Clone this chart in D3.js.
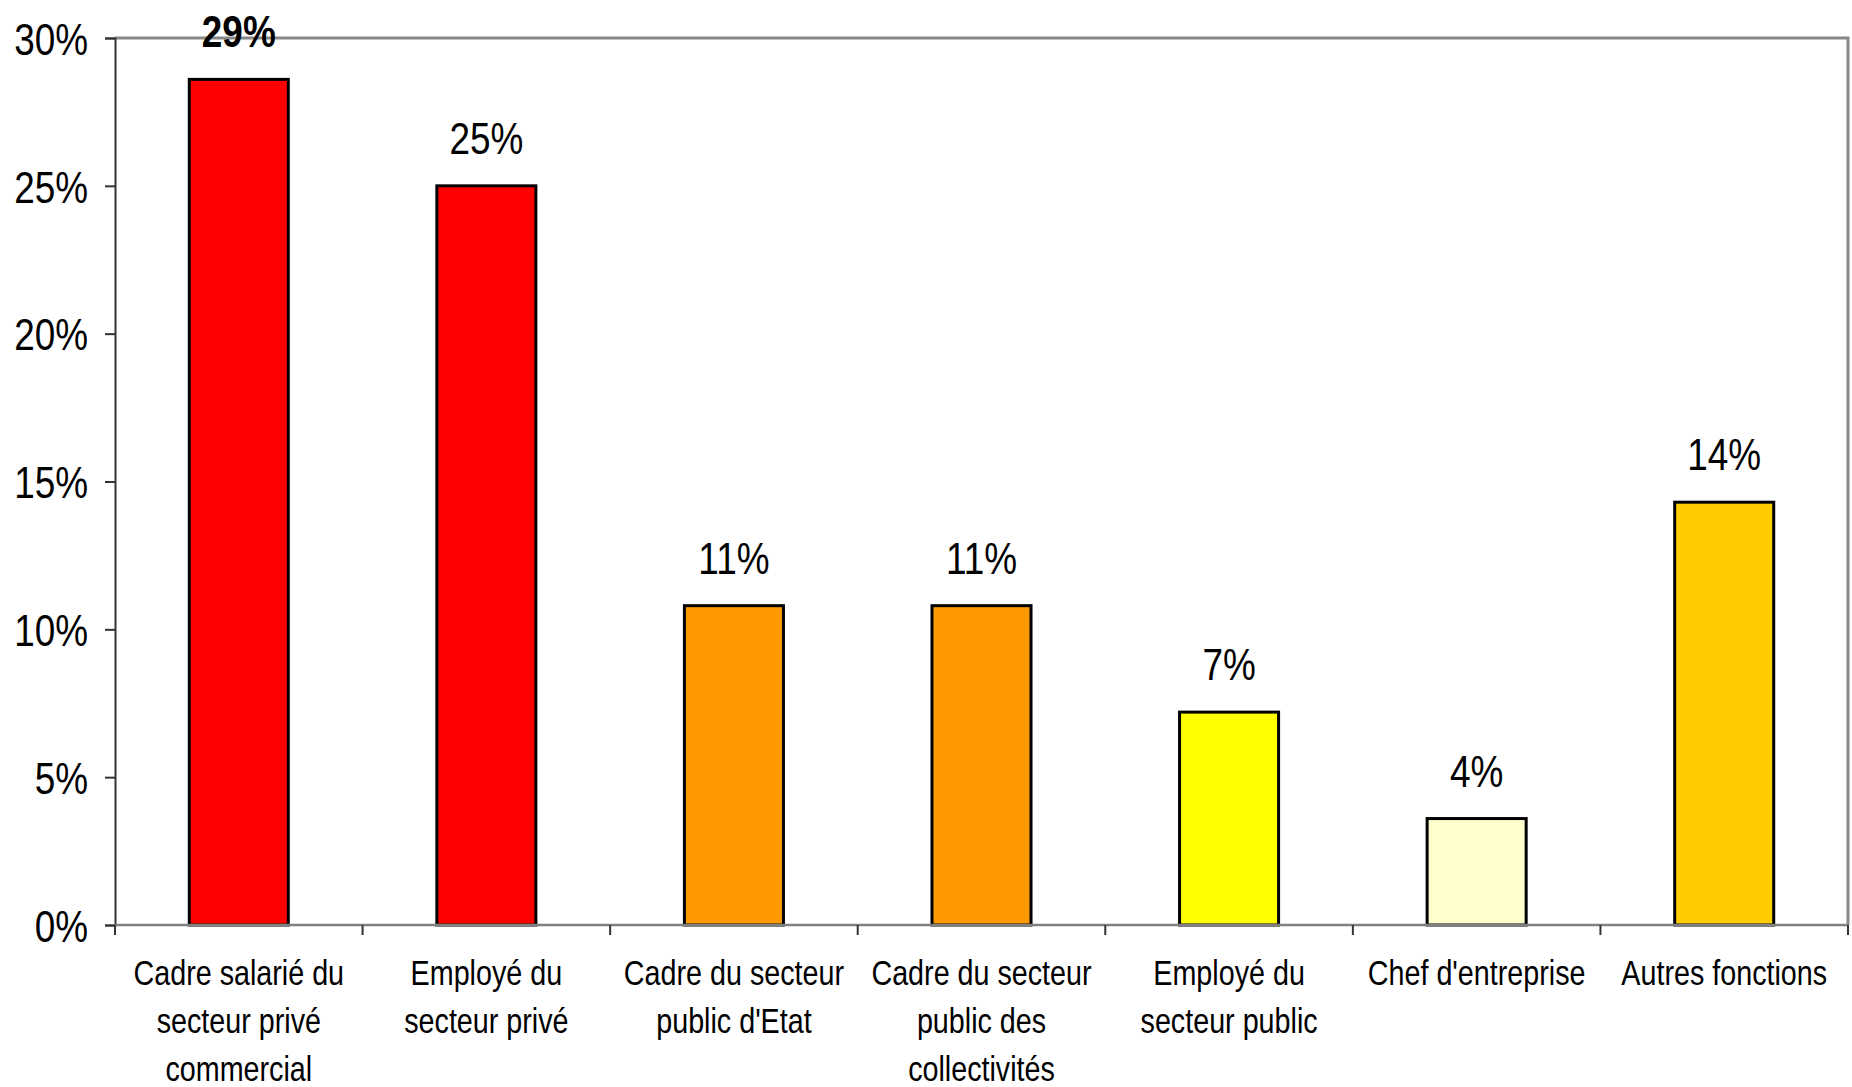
<!DOCTYPE html>
<html>
<head>
<meta charset="utf-8">
<script src="https://cdn.jsdelivr.net/npm/d3@7"></script>
<style>
  html, body { margin: 0; padding: 0; background: #fff; }
  svg text { font-family: "Liberation Sans", Arial, sans-serif; fill: #000; }
</style>
</head>
<body>
<svg id="chart"></svg>
<script>
// categories (line breaks as in the original axis)
var categories = [
  "Cadre salarié du\nsecteur privé\ncommercial",
  "Employé du\nsecteur privé",
  "Cadre du secteur\npublic d'Etat",
  "Cadre du secteur\npublic des\ncollectivités",
  "Employé du\nsecteur public",
  "Chef d'entreprise",
  "Autres fonctions"
];
var values = [28.6, 25.0, 10.8, 10.8, 7.2, 3.6, 14.3];
var valueLabels = ["29%", "25%", "11%", "11%", "7%", "4%", "14%"];
var barColors = ["#ff0000", "#ff0000", "#ff9900", "#ff9900", "#ffff00", "#ffffcc", "#ffcc00"];
var yTicks = [0, 5, 10, 15, 20, 25, 30];

var width = 1852,
    height = 1087,
    margin = {top: 38, right: 4, bottom: 162, left: 115},
    innerW = width - margin.left - margin.right,
    innerH = height - margin.top - margin.bottom;

var svg = d3.select('#chart')
  .attr('width', width)
  .attr('height', height);

var g = svg.append('g')
  .attr('transform', `translate(${margin.left},${margin.top})`);

var x = d3.scaleBand()
  .domain(d3.range(categories.length))
  .range([0, innerW])
  .paddingInner(0.6)
  .paddingOuter(0.3);

var xBand = d3.scaleBand()
  .domain(d3.range(categories.length))
  .range([0, innerW]);

var y = d3.scaleLinear()
  .domain([0, 30])
  .range([innerH, 0]);

// squeeze text horizontally to mimic a narrow face
function narrow(sel) {
  sel.each(function() {
    var len = this.getComputedTextLength();
    d3.select(this)
      .attr('textLength', len * 0.82)
      .attr('lengthAdjust', 'spacingAndGlyphs');
  });
}

// plot area border (top / right)
g.append('path')
  .attr('d', `M0,0H${innerW}V${innerH}`)
  .attr('fill', 'none')
  .attr('stroke', '#888')
  .attr('stroke-width', 3);

// bars
g.selectAll('rect.bar')
  .data(values)
  .enter()
  .append('rect')
  .attr('class', 'bar')
  .attr('x', function(d, i) { return x(i); })
  .attr('width', x.bandwidth())
  .attr('y', function(d) { return y(d); })
  .attr('height', function(d) { return innerH - y(d); })
  .attr('fill', function(d, i) { return barColors[i]; })
  .attr('stroke', '#000')
  .attr('stroke-width', 3);

// value labels
g.selectAll('text.value')
  .data(values)
  .enter()
  .append('text')
  .attr('class', 'value')
  .attr('x', function(d, i) { return x(i) + x.bandwidth() / 2; })
  .attr('y', function(d) { return y(d) - 32; })
  .attr('text-anchor', 'middle')
  .style('font-size', '45px')
  .style('font-weight', function(d, i) { return i === 0 ? 'bold' : 'normal'; })
  .text(function(d, i) { return valueLabels[i]; })
  .call(narrow);

// y axis
var yAxis = g.append('g')
  .call(d3.axisLeft(y)
    .tickValues(yTicks)
    .tickSize(10)
    .tickPadding(17)
    .tickFormat(function(d) { return d + '%'; }));

yAxis.select('.domain').attr('stroke', '#333').attr('stroke-width', 2);
yAxis.selectAll('.tick line').attr('stroke', '#333').attr('stroke-width', 2);
yAxis.selectAll('.tick text')
  .attr('font-family', null)
  .attr('font-size', null)
  .style('font-size', '45px')
  .attr('dy', '0.36em')
  .call(narrow);

// x axis with ticks between categories
var xAxis = g.append('g')
  .attr('transform', `translate(0,${innerH})`);

xAxis.append('line')
  .attr('x1', 0)
  .attr('x2', innerW)
  .attr('stroke', '#808080')
  .attr('stroke-width', 2.5);

xAxis.selectAll('line.sep')
  .data(d3.range(categories.length + 1))
  .enter()
  .append('line')
  .attr('class', 'sep')
  .attr('x1', function(i) { return i * xBand.bandwidth(); })
  .attr('x2', function(i) { return i * xBand.bandwidth(); })
  .attr('y1', 0)
  .attr('y2', 10)
  .attr('stroke', '#333')
  .attr('stroke-width', 2);

var catLabel = xAxis.selectAll('text.cat')
  .data(categories)
  .enter()
  .append('text')
  .attr('class', 'cat')
  .attr('text-anchor', 'middle')
  .attr('transform', function(d, i) {
    return `translate(${xBand(i) + xBand.bandwidth() / 2},60)`;
  })
  .style('font-size', '35px');

catLabel.selectAll('tspan')
  .data(function(d) { return d.split('\n'); })
  .enter()
  .append('tspan')
  .attr('x', 0)
  .attr('y', function(d, i) { return i * 48; })
  .text(function(d) { return d; })
  .call(narrow);
</script>
</body>
</html>
